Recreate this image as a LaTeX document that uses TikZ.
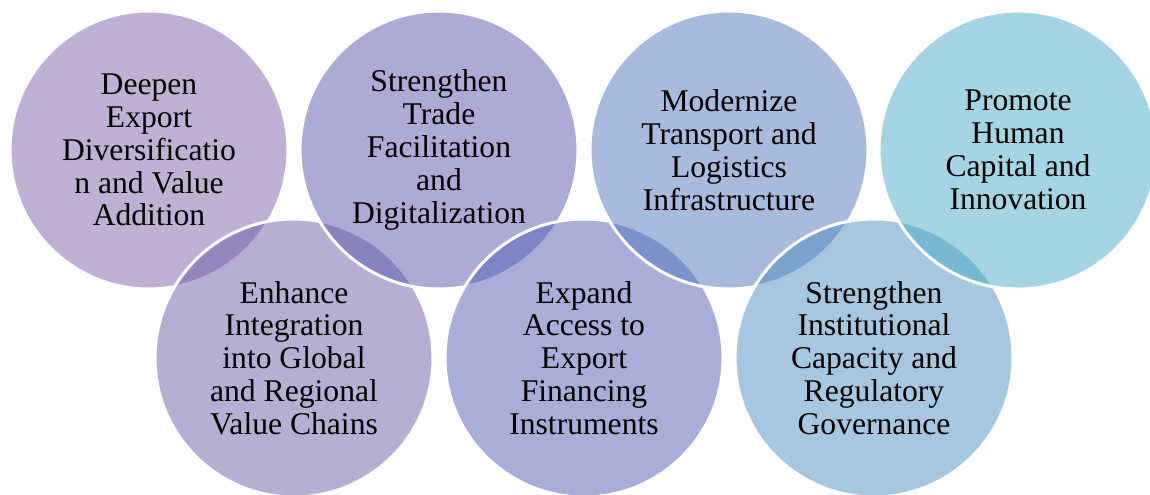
\documentclass[tikz,border=0pt]{standalone}
\usepackage{fontspec}
\setmainfont{Liberation Serif}
\definecolor{lilac}{RGB}{125,99,167}
\definecolor{mauve}{RGB}{109,93,167}
\definecolor{violet}{RGB}{91,87,173}
\definecolor{periwinkle}{RGB}{83,93,179}
\definecolor{steel}{RGB}{81,119,187}
\definecolor{sky}{RGB}{79,141,191}
\definecolor{teal}{RGB}{75,171,199}
\usepackage{tikz}

\begin{document}
\begin{tikzpicture}[x=0.02cm, y=-0.02cm,
  goal/.style={circle, minimum size=5.56cm, inner sep=0pt, align=center,
    draw=white, line width=1.7pt, fill opacity=0.5, draw opacity=1, text opacity=1,
    font=\fontsize{18}{18.7}\selectfont}]
  \useasboundingbox (0,0) rectangle (1150,494);
  \clip (0,0) rectangle (1150,494);
  %% Circles drawn left to right, so each white rim covers the one before
  \node[goal, fill=lilac]      (diversify) at (149,150) {Deepen\\Export\\Diversificatio\\n and Value\\Addition};
  \node[goal, fill=mauve]      (integrate) at (294,358) {Enhance\\Integration\\into Global\\and Regional\\Value Chains};
  \node[goal, fill=violet]     (trade)     at (439,150) {Strengthen\\Trade\\Facilitation\\and\\Digitalization};
  \node[goal, fill=periwinkle] (finance)   at (584,358) {Expand\\Access to\\Export\\Financing\\Instruments};
  \node[goal, fill=steel]      (transport) at (729,150) {Modernize\\Transport and\\Logistics\\Infrastructure};
  \node[goal, fill=sky]        (institute) at (874,358) {Strengthen\\Institutional\\Capacity and\\Regulatory\\Governance};
  \node[goal, fill=teal]       (human)     at (1018,150) {Promote\\Human\\Capital and\\Innovation};
\end{tikzpicture}
\end{document}
